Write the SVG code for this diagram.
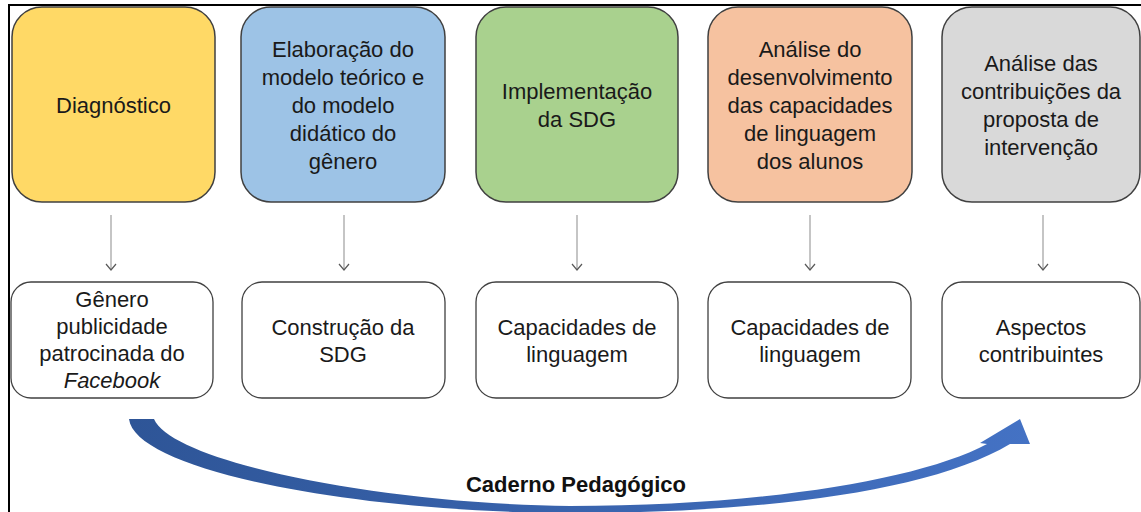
<svg xmlns="http://www.w3.org/2000/svg" width="1141" height="512" viewBox="0 0 1141 512">
  <defs>
    <style>
      .t { font-family: "Liberation Sans", Arial, sans-serif; font-size: 22px; fill: #1a1a1a; text-anchor: middle; }
      .top { stroke: #404040; stroke-width: 1.5; }
      .bot { fill: #ffffff; stroke: #404040; stroke-width: 1.3; }
      .conn { stroke: #a6a6a6; stroke-width: 1.3; fill: none; marker-end: url(#vhead); }
      .lbl { font-family: "Liberation Sans", Arial, sans-serif; font-size: 22px; font-weight: bold; fill: #111; text-anchor: middle; }
    </style>
    <marker id="vhead" viewBox="0 0 12 12" refX="11" refY="6" markerWidth="12" markerHeight="12" markerUnits="userSpaceOnUse" orient="auto">
      <path d="M5,1 L11,6 L5,11" fill="none" stroke="#595959" stroke-width="1.2"/>
    </marker>
    <linearGradient id="blue" x1="0" y1="0" x2="1" y2="0">
      <stop offset="0" stop-color="#2e5597"/>
      <stop offset="1" stop-color="#4472c4"/>
    </linearGradient>
  </defs>
  <rect x="0" y="0" width="1141" height="512" fill="#ffffff"/>
  <path d="M9,512 V5 H1141" fill="none" stroke="#000" stroke-width="2"/>

  <g id="n1">
    <rect class="top" x="12" y="7" width="203" height="195" rx="30" fill="#ffd966"/>
    <text class="t" x="113.5" y="112.5">Diagnóstico</text>
  </g>
  <g id="n2">
    <rect class="top" x="241" y="7" width="204" height="195" rx="30" fill="#9dc3e6"/>
    <text class="t" x="343" y="56.5">Elaboração do</text>
    <text class="t" x="343" y="84.5">modelo teórico e</text>
    <text class="t" x="343" y="112.5">do modelo</text>
    <text class="t" x="343" y="140.5">didático do</text>
    <text class="t" x="343" y="168.5">gênero</text>
  </g>
  <g id="n3">
    <rect class="top" x="476" y="7" width="202" height="195" rx="30" fill="#a9d18e"/>
    <text class="t" x="577" y="98.5">Implementação</text>
    <text class="t" x="577" y="126.5">da SDG</text>
  </g>
  <g id="n4">
    <rect class="top" x="708" y="7" width="204" height="195" rx="30" fill="#f6c2a0"/>
    <text class="t" x="810" y="56.5">Análise do</text>
    <text class="t" x="810" y="84.5">desenvolvimento</text>
    <text class="t" x="810" y="112.5">das capacidades</text>
    <text class="t" x="810" y="140.5">de linguagem</text>
    <text class="t" x="810" y="168.5">dos alunos</text>
  </g>
  <g id="n5">
    <rect class="top" x="942" y="7" width="198" height="195" rx="30" fill="#d9d9d9"/>
    <text class="t" x="1041" y="70.5">Análise das</text>
    <text class="t" x="1041" y="98.5">contribuições da</text>
    <text class="t" x="1041" y="126.5">proposta de</text>
    <text class="t" x="1041" y="154.5">intervenção</text>
  </g>

  <g id="b1">
    <rect class="bot" x="11" y="282" width="202" height="116" rx="20"/>
    <text class="t" x="112" y="306.5">Gênero</text>
    <text class="t" x="112" y="333.5">publicidade</text>
    <text class="t" x="112" y="360.5">patrocinada do</text>
    <text class="t" x="112" y="387.5" font-style="italic">Facebook</text>
  </g>
  <g id="b2">
    <rect class="bot" x="242" y="282" width="203" height="116" rx="20"/>
    <text class="t" x="343" y="334.5">Construção da</text>
    <text class="t" x="343" y="362">SDG</text>
  </g>
  <g id="b3">
    <rect class="bot" x="476" y="282" width="202" height="116" rx="20"/>
    <text class="t" x="577" y="334.5">Capacidades de</text>
    <text class="t" x="577" y="362">linguagem</text>
  </g>
  <g id="b4">
    <rect class="bot" x="708" y="282" width="203" height="116" rx="20"/>
    <text class="t" x="810" y="334.5">Capacidades de</text>
    <text class="t" x="810" y="362">linguagem</text>
  </g>
  <g id="b5">
    <rect class="bot" x="942" y="282" width="198" height="116" rx="20"/>
    <text class="t" x="1041" y="334.5">Aspectos</text>
    <text class="t" x="1041" y="362">contribuintes</text>
  </g>

  <g id="connectors">
    <line class="conn" x1="111" y1="215" x2="111" y2="270"/>
    <line class="conn" x1="344" y1="215" x2="344" y2="270"/>
    <line class="conn" x1="577" y1="215" x2="577" y2="270"/>
    <line class="conn" x1="810" y1="215" x2="810" y2="270"/>
    <line class="conn" x1="1043" y1="215" x2="1043" y2="270"/>
    <path id="bigarrow" fill="url(#blue)" d="M129,419 L154,419 C172,462 380,504 570,506 C760,506 920,480 987,444 L980,443 L1020,419 L1030,444 L1010,444 C930,492 760,513 570,513 C350,512 135,470 129,419 Z"/>
  </g>
  <text class="lbl" x="576" y="492">Caderno Pedagógico</text>
</svg>
